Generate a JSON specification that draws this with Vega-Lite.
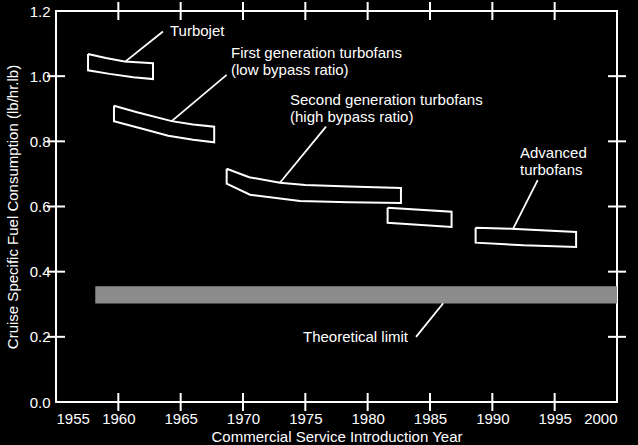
{
  "$schema": "https://vega.github.io/schema/vega-lite/v6.json",
  "width": 561,
  "height": 391,
  "autosize": {"type": "none"},
  "padding": {"left": 56, "top": 11, "right": 21, "bottom": 43},
  "background": "black",
  "config": {
    "view": {"stroke": "white", "strokeWidth": 2},
    "font": "Liberation Sans",
    "axis": {
      "domain": false,
      "grid": false,
      "ticks": false,
      "labelColor": "white",
      "labelFont": "Liberation Sans",
      "labelFontSize": 15,
      "titleColor": "white",
      "titleFont": "Liberation Sans",
      "titleFontSize": 15,
      "titleFontWeight": "normal"
    }
  },
  "datasets": {
    "limit": [{"x1": 1958.15, "x2": 2000, "y1": 0.302, "y2": 0.355}],
    "xticks": [{"v": 1960}, {"v": 1965}, {"v": 1970}, {"v": 1975}, {"v": 1980}, {"v": 1985}, {"v": 1990}, {"v": 1995}],
    "yticks": [{"v": 0.2}, {"v": 0.4}, {"v": 0.6}, {"v": 0.8}, {"v": 1.0}],
    "bands": [
      {"band": "Turbojet", "i": 0, "year": 1957.57, "sfc": 1.068},
      {"band": "Turbojet", "i": 1, "year": 1959.0, "sfc": 1.056},
      {"band": "Turbojet", "i": 2, "year": 1960.5, "sfc": 1.045},
      {"band": "Turbojet", "i": 3, "year": 1962.78, "sfc": 1.040},
      {"band": "Turbojet", "i": 4, "year": 1962.78, "sfc": 0.991},
      {"band": "Turbojet", "i": 5, "year": 1961.2, "sfc": 0.997},
      {"band": "Turbojet", "i": 6, "year": 1959.3, "sfc": 1.007},
      {"band": "Turbojet", "i": 7, "year": 1957.57, "sfc": 1.018},
      {"band": "Turbojet", "i": 8, "year": 1957.57, "sfc": 1.068},
      {"band": "First", "i": 0, "year": 1959.65, "sfc": 0.909},
      {"band": "First", "i": 1, "year": 1961.5, "sfc": 0.889},
      {"band": "First", "i": 2, "year": 1964.28, "sfc": 0.862},
      {"band": "First", "i": 3, "year": 1966.0, "sfc": 0.852},
      {"band": "First", "i": 4, "year": 1967.69, "sfc": 0.845},
      {"band": "First", "i": 5, "year": 1967.69, "sfc": 0.797},
      {"band": "First", "i": 6, "year": 1966.0, "sfc": 0.805},
      {"band": "First", "i": 7, "year": 1964.0, "sfc": 0.817},
      {"band": "First", "i": 8, "year": 1962.0, "sfc": 0.838},
      {"band": "First", "i": 9, "year": 1959.65, "sfc": 0.862},
      {"band": "First", "i": 10, "year": 1959.65, "sfc": 0.909},
      {"band": "Second", "i": 0, "year": 1968.69, "sfc": 0.716},
      {"band": "Second", "i": 1, "year": 1970.5, "sfc": 0.690},
      {"band": "Second", "i": 2, "year": 1972.96, "sfc": 0.673},
      {"band": "Second", "i": 3, "year": 1975.0, "sfc": 0.666},
      {"band": "Second", "i": 4, "year": 1978.5, "sfc": 0.661},
      {"band": "Second", "i": 5, "year": 1982.67, "sfc": 0.657},
      {"band": "Second", "i": 6, "year": 1982.67, "sfc": 0.611},
      {"band": "Second", "i": 7, "year": 1978.5, "sfc": 0.613},
      {"band": "Second", "i": 8, "year": 1974.57, "sfc": 0.617},
      {"band": "Second", "i": 9, "year": 1970.56, "sfc": 0.636},
      {"band": "Second", "i": 10, "year": 1968.69, "sfc": 0.670},
      {"band": "Second", "i": 11, "year": 1968.69, "sfc": 0.716},
      {"band": "Middle", "i": 0, "year": 1981.6, "sfc": 0.596},
      {"band": "Middle", "i": 1, "year": 1986.73, "sfc": 0.584},
      {"band": "Middle", "i": 2, "year": 1986.73, "sfc": 0.537},
      {"band": "Middle", "i": 3, "year": 1981.6, "sfc": 0.550},
      {"band": "Middle", "i": 4, "year": 1981.6, "sfc": 0.596},
      {"band": "Advanced", "i": 0, "year": 1988.66, "sfc": 0.535},
      {"band": "Advanced", "i": 1, "year": 1991.5, "sfc": 0.532},
      {"band": "Advanced", "i": 2, "year": 1996.72, "sfc": 0.522},
      {"band": "Advanced", "i": 3, "year": 1996.72, "sfc": 0.476},
      {"band": "Advanced", "i": 4, "year": 1992.5, "sfc": 0.481},
      {"band": "Advanced", "i": 5, "year": 1988.66, "sfc": 0.489},
      {"band": "Advanced", "i": 6, "year": 1988.66, "sfc": 0.535}
    ],
    "leaders": [
      {"x1": 1960.53, "y1": 1.044, "x2": 1963.58, "y2": 1.137},
      {"x1": 1964.28, "y1": 0.862, "x2": 1968.69, "y2": 1.004},
      {"x1": 1972.96, "y1": 0.673, "x2": 1976.66, "y2": 0.845},
      {"x1": 1991.67, "y1": 0.532, "x2": 1993.64, "y2": 0.681},
      {"x1": 1983.88, "y1": 0.200, "x2": 1986.06, "y2": 0.303}
    ],
    "labels": [
      {"text": "Turbojet", "x": 1964.14, "y": 1.140},
      {"text": "First generation turbofans", "x": 1969.04, "y": 1.070},
      {"text": "(low bypass ratio)", "x": 1969.04, "y": 1.018},
      {"text": "Second generation turbofans", "x": 1973.77, "y": 0.927},
      {"text": "(high bypass ratio)", "x": 1973.77, "y": 0.876},
      {"text": "Advanced", "x": 1992.22, "y": 0.763},
      {"text": "turbofans", "x": 1992.22, "y": 0.712},
      {"text": "Theoretical limit", "x": 1974.81, "y": 0.199}
    ]
  },
  "encoding": {
    "x": {"type": "quantitative",
          "scale": {"domain": [1955, 2000], "nice": false, "zero": false},
          "axis": {"orient": "bottom", "values": [1955, 1960, 1965, 1970, 1975, 1980, 1985, 1990, 1995, 2000],
                   "format": "d", "title": "Commercial Service Introduction Year",
                   "labelPadding": 9, "titlePadding": 3}},
    "y": {"type": "quantitative",
          "scale": {"domain": [0, 1.2], "nice": false},
          "axis": {"orient": "left", "values": [0, 0.2, 0.4, 0.6, 0.8, 1.0, 1.2],
                   "format": ".1f", "title": "Cruise Specific Fuel Consumption (lb/hr.lb)",
                   "labelPadding": 6, "titlePadding": 9}}
  },
  "layer": [
    {
      "data": {"name": "limit"},
      "mark": {"type": "rect", "fill": "#8c8c8c"},
      "encoding": {
        "x": {"field": "x1", "type": "quantitative"},
        "x2": {"field": "x2"},
        "y": {"field": "y1", "type": "quantitative"},
        "y2": {"field": "y2"}
      }
    },
    {
      "data": {"name": "xticks"},
      "mark": {"type": "tick", "orient": "vertical", "color": "white", "size": 18, "thickness": 2, "opacity": 1},
      "encoding": {
        "x": {"field": "v", "type": "quantitative"},
        "y": {"datum": 0, "type": "quantitative"}
      }
    },
    {
      "data": {"name": "xticks"},
      "mark": {"type": "tick", "orient": "vertical", "color": "white", "size": 18, "thickness": 2, "opacity": 1},
      "encoding": {
        "x": {"field": "v", "type": "quantitative"},
        "y": {"datum": 1.2, "type": "quantitative"}
      }
    },
    {
      "data": {"name": "yticks"},
      "mark": {"type": "tick", "orient": "horizontal", "color": "white", "size": 18, "thickness": 2, "opacity": 1},
      "encoding": {
        "y": {"field": "v", "type": "quantitative"},
        "x": {"datum": 1955, "type": "quantitative"}
      }
    },
    {
      "data": {"name": "yticks"},
      "mark": {"type": "tick", "orient": "horizontal", "color": "white", "size": 18, "thickness": 2, "opacity": 1},
      "encoding": {
        "y": {"field": "v", "type": "quantitative"},
        "x": {"datum": 2000, "type": "quantitative"}
      }
    },
    {
      "data": {"name": "bands"},
      "mark": {"type": "line", "stroke": "white", "strokeWidth": 2},
      "encoding": {
        "x": {"field": "year", "type": "quantitative"},
        "y": {"field": "sfc", "type": "quantitative"},
        "detail": {"field": "band"},
        "order": {"field": "i", "type": "quantitative"}
      }
    },
    {
      "data": {"name": "leaders"},
      "mark": {"type": "rule", "stroke": "white", "strokeWidth": 1.8},
      "encoding": {
        "x": {"field": "x1", "type": "quantitative"},
        "y": {"field": "y1", "type": "quantitative"},
        "x2": {"field": "x2"},
        "y2": {"field": "y2"}
      }
    },
    {
      "data": {"name": "labels"},
      "mark": {"type": "text", "align": "left", "baseline": "middle", "color": "white",
               "font": "Liberation Sans", "fontSize": 15},
      "encoding": {
        "x": {"field": "x", "type": "quantitative"},
        "y": {"field": "y", "type": "quantitative"},
        "text": {"field": "text"}
      }
    }
  ]
}
